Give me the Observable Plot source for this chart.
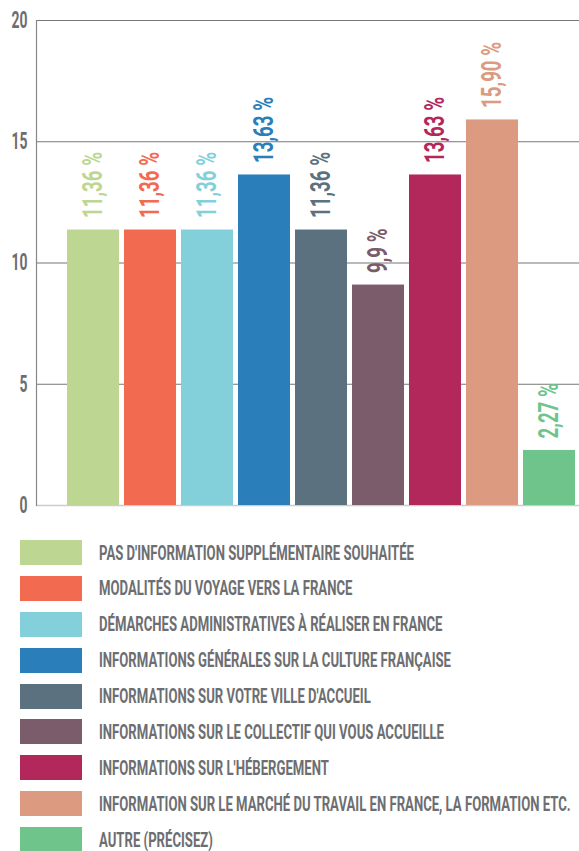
<!DOCTYPE html>
<html>
<head>
<meta charset="utf-8">
<script src="https://cdn.jsdelivr.net/npm/d3@7"></script>
<script src="https://cdn.jsdelivr.net/npm/@observablehq/plot@0.6"></script>
<style>
  html, body { margin: 0; padding: 0; background: #fff; }
  body { width: 579px; font-family: Roboto, "DejaVu Sans Condensed", sans-serif; }
  #chart svg { display: block; }
  .legend { margin-top: 20px; }
  .row { display: flex; align-items: center; height: 25px; margin-bottom: 10.9px; }
  .sw { width: 62px; height: 25px; margin-left: 20px; flex: none; }
  .lab { margin-left: 17px; font-weight: bold; font-size: 21px; line-height: 22px; color: #6d6e71; white-space: nowrap; display: inline-block; transform-origin: left center; }
</style>
</head>
<body>
<div id="chart"></div>
<div class="legend" id="legend"></div>
<script>
const categories = [
  "PAS D'INFORMATION SUPPLÉMENTAIRE SOUHAITÉE",
  "MODALITÉS DU VOYAGE VERS LA FRANCE",
  "DÉMARCHES ADMINISTRATIVES À RÉALISER EN FRANCE",
  "INFORMATIONS GÉNÉRALES SUR LA CULTURE FRANÇAISE",
  "INFORMATIONS SUR VOTRE VILLE D'ACCUEIL",
  "INFORMATIONS SUR LE COLLECTIF QUI VOUS ACCUEILLE",
  "INFORMATIONS SUR L'HÉBERGEMENT",
  "INFORMATION SUR LE MARCHÉ DU TRAVAIL EN FRANCE, LA FORMATION ETC.",
  "AUTRE (PRÉCISEZ)"
];
const values = [11.36, 11.36, 11.36, 13.63, 11.36, 9.09, 13.63, 15.90, 2.27];
const valueLabels = ["11,36 %", "11,36 %", "11,36 %", "13,63 %", "11,36 %", "9,9 %", "13,63 %", "15,90 %", "2,27 %"];
const colors = ["#bdd692", "#f26b50", "#84d0da", "#2a7fba", "#5b717f", "#7b5c6a", "#b3285a", "#dc9a80", "#6ec48a"];
const yTicks = [0, 5, 10, 15, 20];

const data = categories.map((c, i) => ({cat: c, value: values[i], label: valueLabels[i], color: colors[i]}));
const font = 'Roboto, "DejaVu Sans Condensed", sans-serif';

const chart = Plot.plot({
  width: 579,
  height: 520,
  marginTop: 20,
  marginBottom: 15,
  marginLeft: 36,
  marginRight: 0,
  style: {fontFamily: font, background: "#fff"},
  x: {domain: categories, range: [64.5, 577.5], paddingInner: 5/57, paddingOuter: 2.5/57, axis: null},
  y: {domain: [0, 20], axis: null},
  marks: [
    Plot.ruleY(yTicks.filter(d => d > 0), {stroke: "#777", strokeWidth: 1.2}),
    Plot.ruleY([0], {stroke: "#ccc", strokeWidth: 1.5}),
    Plot.frame({anchor: "left", stroke: "#888", strokeWidth: 1.2}),
    Plot.barY(data, {x: "cat", y: "value", fill: "color"}),
    Plot.text(data, {x: "cat", y: "value", text: "label", fill: "color", rotate: -90, textAnchor: "start", dy: -12, fontSize: 27, fontWeight: "bold", lineAnchor: "middle", className: "vlab"}),
    Plot.axisY({ticks: yTicks, tickSize: 0, tickPadding: 9, fontSize: 23, fontWeight: "bold", color: "#6d6e71", label: null, tickFormat: d => String(d), className: "ytick"})
  ]
});
document.getElementById("chart").appendChild(chart);

// condense texts to mimic a narrow display typeface
function condense(selector, factor) {
  chart.querySelectorAll(selector).forEach(t => {
    const len = t.getComputedTextLength();
    t.setAttribute("textLength", len * factor);
    t.setAttribute("lengthAdjust", "spacingAndGlyphs");
  });
}
{
  const vt = chart.querySelectorAll(".vlab text");
  const f = 66 / vt[0].getComputedTextLength();
  condense(".vlab text", f);
  const yt = [...chart.querySelectorAll(".ytick text")];
  const t20 = yt.find(t => t.textContent === "20");
  const fy = 16 / t20.getComputedTextLength();
  condense(".ytick text", fy);
}

const legend = document.getElementById("legend");
const labs = [];
categories.forEach((c, i) => {
  const row = document.createElement("div");
  row.className = "row";
  const sw = document.createElement("div");
  sw.className = "sw";
  sw.style.background = colors[i];
  const lab = document.createElement("span");
  lab.className = "lab";
  lab.textContent = c;
  row.appendChild(sw);
  row.appendChild(lab);
  legend.appendChild(row);
  labs.push(lab);
});
const fl = 315 / labs[0].getBoundingClientRect().width;
labs.forEach(l => l.style.transform = `scaleX(${fl})`);
</script>
</body>
</html>
